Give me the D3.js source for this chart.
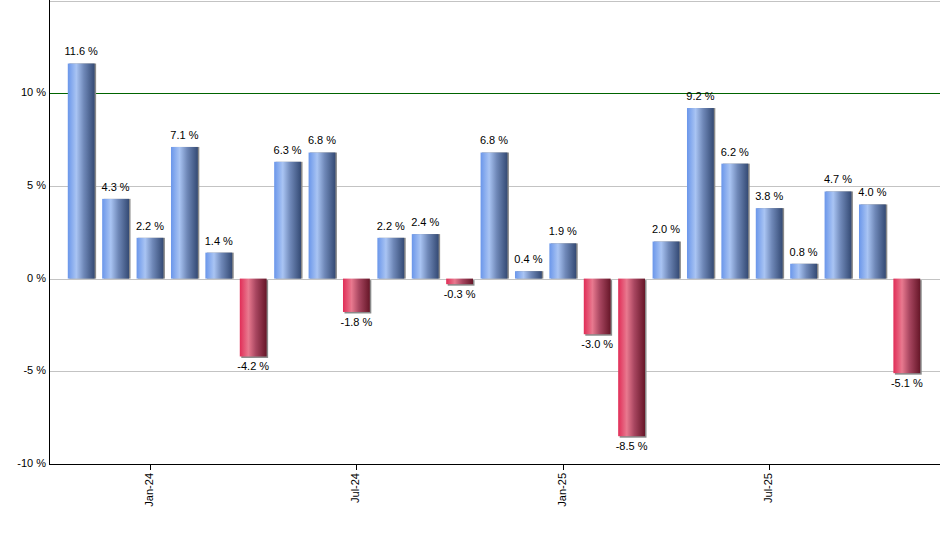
<!DOCTYPE html>
<html lang="en">
<head>
<meta charset="UTF-8">
<title>monthly returns</title>
<script src="https://cdn.jsdelivr.net/npm/d3@7"></script>
<style>
    body { margin: 0; background: #fff; }
    svg text { font-family: "Liberation Sans", Arial, sans-serif; font-size: 11px; fill: #000; }
</style>
</head>
<body>
<svg id="chart" width="940" height="550"></svg>
<script>
// monthly values, Nov-23 .. Nov-25
let months = ["Nov-23","Dec-23","Jan-24","Feb-24","Mar-24","Apr-24","May-24","Jun-24","Jul-24",
    "Aug-24","Sep-24","Oct-24","Nov-24","Dec-24","Jan-25","Feb-25","Mar-25","Apr-25","May-25",
    "Jun-25","Jul-25","Aug-25","Sep-25","Oct-25","Nov-25"]
let returns = [11.6, 4.3, 2.2, 7.1, 1.4, -4.2, 6.3, 6.8, -1.8, 2.2, 2.4, -0.3, 6.8, 0.4, 1.9,
    -3.0, -8.5, 2.0, 9.2, 6.2, 3.8, 0.8, 4.7, 4.0, -5.1]
let tickMonths = ["Jan-24", "Jul-24", "Jan-25", "Jul-25"]
let yTicks = [-10, -5, 0, 5, 10]
let gridTicks = [-5, 0, 5, 15]
let targetLine = 10

let data = months.map(function (m, i) { return {month: m, value: returns[i]} })

let svg = d3.select("#chart")
let plotLeft = 49, plotRight = 940, plotTop = 0.5, plotBottom = 464

let x = d3.scaleBand().domain(months).range([plotLeft + 15, plotRight - 16]).paddingInner(0.22).paddingOuter(0.11)
let y = d3.scaleLinear().domain([-10, 15]).range([plotBottom, plotTop])

// gradients
let defs = svg.append("defs")
function grad(id, stops) {
    let g = defs.append("linearGradient").attr("id", id)
        .attr("x1", "0%").attr("x2", "100%").attr("y1", "0%").attr("y2", "0%")
    stops.forEach(function (s) {
        g.append("stop").attr("offset", s[0]).attr("stop-color", s[1])
    })
}
grad("blue", [["0%", "#6a96ea"], ["32%", "#a9c4f3"], ["60%", "#6f88b8"], ["100%", "#344a74"]])
grad("red", [["0%", "#e12d57"], ["32%", "#e8798f"], ["60%", "#a84660"], ["100%", "#661628"]])

// grid
svg.append("g").selectAll("line").data(gridTicks).join("line")
    .attr("x1", plotLeft).attr("x2", plotRight)
    .attr("y1", d => Math.round(y(d)) + 0.5).attr("y2", d => Math.round(y(d)) + 0.5)
    .attr("stroke", "#c3c3c3").attr("stroke-width", 1)

svg.append("line")
    .attr("x1", plotLeft).attr("x2", plotRight)
    .attr("y1", Math.round(y(targetLine)) + 0.5).attr("y2", Math.round(y(targetLine)) + 0.5)
    .attr("stroke", "#006400").attr("stroke-width", 1)

// bars
let bars = svg.append("g")
bars.selectAll("rect.shadow").data(data).join("rect")
    .attr("class", "shadow")
    .attr("x", d => x(d.month) + 1.5)
    .attr("y", d => Math.min(y(d.value), y(0)) + (d.value < 0 ? 1.5 : 0))
    .attr("width", x.bandwidth())
    .attr("height", d => Math.abs(y(d.value) - y(0)))
    .attr("fill", "#8a8a8a")
bars.selectAll("rect.bar").data(data).join("rect")
    .attr("class", "bar")
    .attr("x", d => x(d.month))
    .attr("y", d => Math.min(y(d.value), y(0)))
    .attr("width", x.bandwidth())
    .attr("height", d => Math.abs(y(d.value) - y(0)))
    .attr("fill", d => d.value >= 0 ? "url(#blue)" : "url(#red)")

// value labels
svg.append("g").selectAll("text").data(data).join("text")
    .attr("x", d => x(d.month) + x.bandwidth() / 2)
    .attr("y", d => d.value >= 0 ? y(d.value) - 11 : y(d.value) + 11)
    .attr("text-anchor", "middle")
    .attr("dominant-baseline", "middle")
    .text(d => d.value.toFixed(1) + " %")

// axes
svg.append("line").attr("x1", plotLeft + 0.5).attr("x2", plotLeft + 0.5).attr("y1", 0).attr("y2", plotBottom + 1)
    .attr("stroke", "#000")
svg.append("line").attr("x1", plotLeft).attr("x2", plotRight).attr("y1", plotBottom + 0.5).attr("y2", plotBottom + 0.5)
    .attr("stroke", "#000")

svg.append("g").selectAll("text").data(yTicks).join("text")
    .attr("x", plotLeft - 3)
    .attr("y", d => y(d))
    .attr("text-anchor", "end")
    .attr("dominant-baseline", "middle")
    .text(d => d + " %")

let xt = svg.append("g").selectAll("g").data(tickMonths).join("g")
    .attr("transform", d => "translate(" + (Math.round(x(d) + x.bandwidth() / 2) + 0.5) + "," + plotBottom + ")")
xt.append("line").attr("y1", 0).attr("y2", 6).attr("stroke", "#000")
xt.append("text")
    .attr("transform", "rotate(-90)")
    .attr("x", -9).attr("y", 0)
    .attr("text-anchor", "end")
    .attr("dominant-baseline", "middle")
    .text(d => d)
</script>
</body>
</html>
